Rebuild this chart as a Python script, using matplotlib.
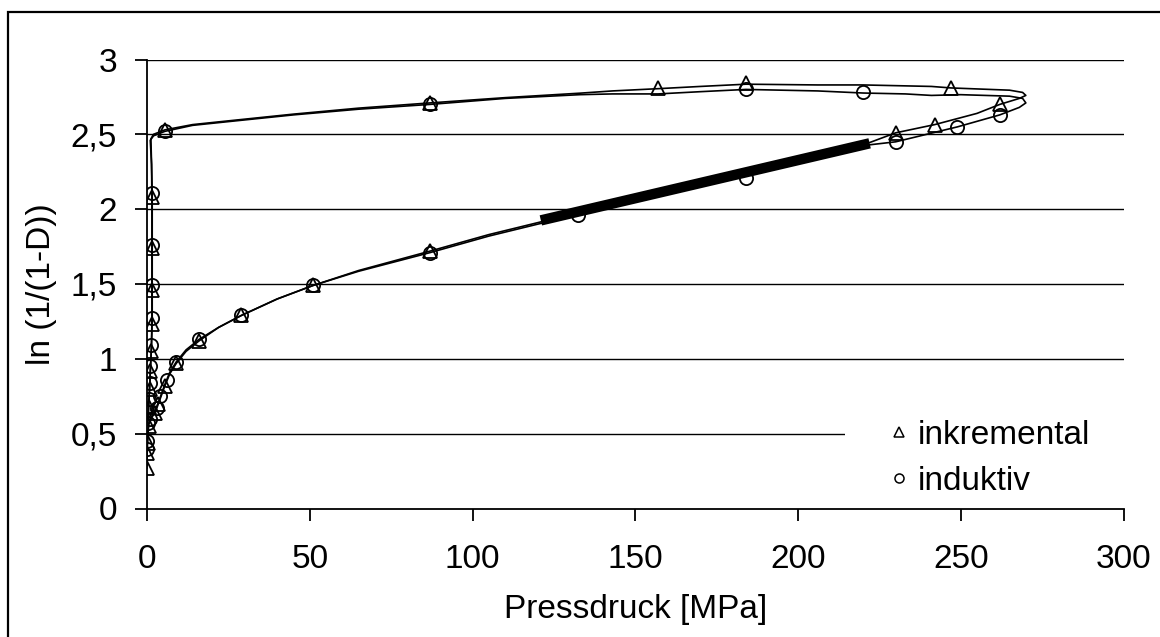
import matplotlib
matplotlib.use("Agg")
import matplotlib.pyplot as plt
from matplotlib.lines import Line2D
from matplotlib.patches import Rectangle
from matplotlib.ticker import FuncFormatter

# =========================================================
# DATA
# =========================================================
# inkremental: full measured path (loading, unloading, relaxation)
ink_p = [0, 0, 0.2, 0.5, 1.5, 2.5, 3.5, 4.5, 5.5, 7, 9, 12, 16, 22, 29, 40, 51, 65, 87,
         105, 121, 150, 180, 200, 222, 230, 242, 255, 262, 268, 270,
         269, 265, 247, 241, 220, 206, 184, 170, 157, 143, 133, 110, 87, 65, 45, 25,
         14, 5.5, 2, 1.2, 1.4, 1.5, 1.5, 1.5, 1.5, 1.3, 1.0, 0.8, 0.5, 0.3]
ink_ln = [0.27, 0.37, 0.45, 0.56, 0.61, 0.64, 0.70, 0.76, 0.82, 0.90, 0.97, 1.05, 1.12, 1.21,
          1.29, 1.40, 1.49, 1.59, 1.72, 1.83, 1.915, 2.07, 2.22, 2.33, 2.445, 2.51, 2.565,
          2.64, 2.70, 2.74, 2.76,
          2.78, 2.795, 2.81, 2.82, 2.83, 2.83, 2.835, 2.82, 2.805, 2.79, 2.775, 2.745, 2.71,
          2.675, 2.635, 2.59, 2.565, 2.53, 2.50, 2.47, 2.30, 2.08, 1.74, 1.46, 1.23, 1.05,
          0.92, 0.80, 0.68, 0.60]

# induktiv: full measured path
ind_p = [0, 0, 0.2, 0.5, 1.5, 2.5, 3.5, 4.5, 5.5, 7, 9, 12, 16, 22, 29, 40, 51, 65, 87,
         105, 121, 150, 180, 200, 222, 230, 249, 262, 268, 270,
         269, 265, 250, 241, 233, 220, 206, 184, 170, 157, 143, 133, 110, 87, 65, 45, 25,
         14, 5.5, 2, 1.0, 1.4, 1.6, 1.6, 1.6, 1.6, 1.4, 1.1, 0.9, 0.6, 0.4]
ind_ln = [0.29, 0.40, 0.47, 0.57, 0.62, 0.655, 0.71, 0.77, 0.83, 0.91, 0.98, 1.06, 1.13, 1.21,
          1.29, 1.40, 1.49, 1.585, 1.71, 1.82, 1.905, 2.055, 2.205, 2.31, 2.43, 2.45, 2.55,
          2.63, 2.68, 2.71,
          2.74, 2.755, 2.765, 2.76, 2.77, 2.776, 2.79, 2.80, 2.785, 2.77, 2.77, 2.765, 2.74,
          2.70, 2.668, 2.63, 2.585, 2.56, 2.52, 2.49, 2.46, 2.30, 2.11, 1.76, 1.49, 1.27,
          1.09, 0.95, 0.84, 0.73, 0.62]

# points shown with markers
ink_mk_p = [0, 0, 0.2, 0.5, 2.5, 3.5, 5.5, 9, 16, 29, 51, 87, 230, 242, 262,
            247, 184, 157, 87, 5.5, 1.5, 1.5, 1.5, 1.5, 1.3, 1.0, 0.8, 0.5]
ink_mk_ln = [0.27, 0.37, 0.44, 0.55, 0.64, 0.70, 0.82, 0.97, 1.12, 1.29, 1.49, 1.72, 2.51,
             2.56, 2.70, 2.81, 2.84, 2.81, 2.71, 2.53, 2.08, 1.74, 1.46, 1.23, 1.05, 0.92,
             0.80, 0.68]

ind_mk_p = [0, 0, 0.3, 1, 3, 4, 6, 9, 16, 29, 51, 87, 132.5, 184, 230, 249, 262,
            220, 184, 87, 5.5, 1.5, 1.5, 1.5, 1.5, 1.3, 1.0, 0.8, 0.5]
ind_mk_ln = [0.40, 0.45, 0.57, 0.60, 0.67, 0.75, 0.86, 0.98, 1.13, 1.29, 1.49, 1.71, 1.96,
             2.21, 2.45, 2.55, 2.63, 2.78, 2.80, 2.70, 2.52, 2.11, 1.76, 1.49, 1.27, 1.09,
             0.95, 0.84, 0.73]

# densely sampled section (appears as a solid band)
band_p = [121, 222]
band_ln = [1.925, 2.44]

x_ticks = [0, 50, 100, 150, 200, 250, 300]
y_ticks = [0, 0.5, 1, 1.5, 2, 2.5, 3]

# =========================================================
# PLOT
# =========================================================
plt.rcParams.update({
    "font.family": ["Liberation Sans", "DejaVu Sans"],
    "font.size": 24,
})

fig = plt.figure(figsize=(11.6, 6.37), dpi=100)
ax = fig.add_axes([147 / 1160, 1 - 508.5 / 637, 976.5 / 1160, 449 / 637])

for y in y_ticks[1:]:
    ax.axhline(y, color="black", linewidth=1.0, zorder=1)

ax.plot(ink_p, ink_ln, color="black", linewidth=1.2, zorder=3)
ax.plot(ind_p, ind_ln, color="black", linewidth=1.2, zorder=3)

ax.plot(ink_mk_p, ink_mk_ln, linestyle="none", marker="^", markersize=9.5,
        markerfacecolor="none", markeredgecolor="black", markeredgewidth=1.3, zorder=4)
ax.plot(ind_mk_p, ind_mk_ln, linestyle="none", marker="o", markersize=9.5,
        markerfacecolor="none", markeredgecolor="black", markeredgewidth=1.3, zorder=4)

ax.plot(band_p, band_ln, color="black", linewidth=7.5, solid_capstyle="butt", zorder=5)

ax.set_xlim(0, 300)
ax.set_ylim(0, 3)
ax.set_xticks(x_ticks)
ax.set_yticks(y_ticks)
ax.yaxis.set_major_formatter(FuncFormatter(lambda v, pos: f"{v:g}".replace(".", ",")))

ax.spines["top"].set_visible(False)
ax.spines["right"].set_visible(False)
ax.spines["left"].set_linewidth(1.3)
ax.spines["bottom"].set_linewidth(1.3)
ax.tick_params(axis="both", direction="out", length=8.5, width=1.3, labelsize=24)
ax.tick_params(axis="x", pad=17)
ax.tick_params(axis="y", pad=13)

ax.set_xlabel("Pressdruck [MPa]", fontsize=24, labelpad=14)
ax.set_ylabel("ln (1/(1-D))", fontsize=24, labelpad=10)

# white patch behind the legend hides the grid line there
ax.add_patch(Rectangle((0.715, 0.10), 0.30, 0.14, transform=ax.transAxes,
                       facecolor="white", edgecolor="none", zorder=2, clip_on=False))

handles = [
    Line2D([], [], linestyle="none", marker="^", markersize=6.5, markerfacecolor="none",
           markeredgecolor="black", markeredgewidth=1.1),
    Line2D([], [], linestyle="none", marker="o", markersize=6.5, markerfacecolor="none",
           markeredgecolor="black", markeredgewidth=1.1),
]
leg = ax.legend(handles, ["inkremental", "induktiv"], loc="upper left",
                bbox_to_anchor=(0.743, 0.235), frameon=False, fontsize=24,
                handlelength=0.6, handletextpad=0.27, labelspacing=0.45, borderpad=0)
leg.set_zorder(6)

# outer chart frame
fig.patches.append(Rectangle((8 / 1160, -0.2), 1.5, 1.2 - 12 / 637,
                             transform=fig.transFigure, fill=False,
                             edgecolor="black", linewidth=1.6, clip_on=False))

fig.savefig("out.png", dpi=100)
